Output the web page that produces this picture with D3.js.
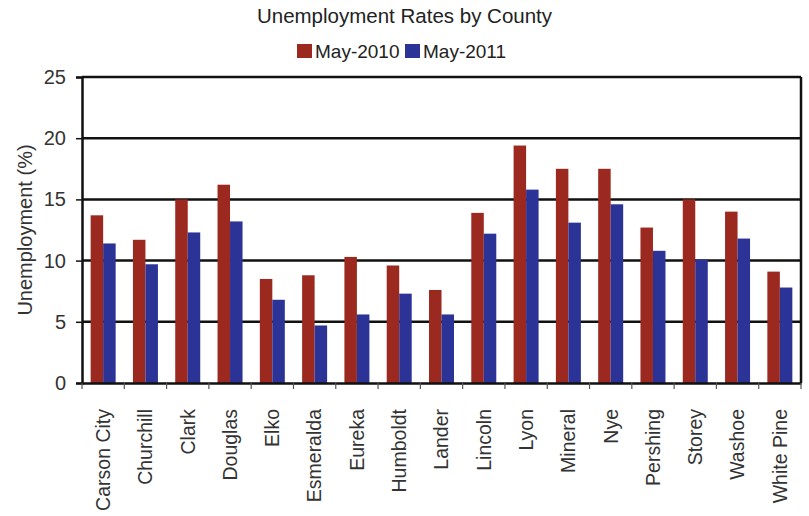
<!DOCTYPE html>
<html>
<head>
<meta charset="utf-8">
<script src="https://cdn.jsdelivr.net/npm/d3@7"></script>
<style>
  html, body { margin: 0; padding: 0; background: #fff; }
  svg { display: block; font-family: "Liberation Sans", Arial, Helvetica, sans-serif; }
</style>
</head>
<body>
<svg id="chart" width="809" height="516"></svg>
<script>
// County unemployment rates (%), May 2010 vs May 2011
const counties = ["Carson City", "Churchill", "Clark", "Douglas", "Elko", "Esmeralda",
  "Eureka", "Humboldt", "Lander", "Lincoln", "Lyon", "Mineral", "Nye", "Pershing",
  "Storey", "Washoe", "White Pine"];
const may2010 = [13.7, 11.7, 15.0, 16.2, 8.5, 8.8, 10.3, 9.6, 7.6, 13.9, 19.4, 17.5, 17.5, 12.7, 15.0, 14.0, 9.1];
const may2011 = [11.4, 9.7, 12.3, 13.2, 6.8, 4.7, 5.6, 7.3, 5.6, 12.2, 15.8, 13.1, 14.6, 10.8, 10.1, 11.8, 7.8];
const seriesNames = ["May-2010", "May-2011"];
const seriesColors = ["#9b2920", "#2c3396"];
const yTicks = [0, 5, 10, 15, 20, 25];

const svg = d3.select("#chart");
const plot = { left: 82, right: 801, top: 77, bottom: 383 };

const x = d3.scaleBand().domain(counties).range([plot.left, plot.right]).padding(0);
const y = d3.scaleLinear().domain([0, 25]).range([plot.bottom, plot.top]);
const pairWidth = 25;
const xSub = d3.scaleBand().domain(seriesNames).range([0, pairWidth]).padding(0);

const rows = counties.map((c, i) => ({ county: c, values: [may2010[i], may2011[i]] }));

// Horizontal gridlines
svg.append("g")
  .selectAll("line")
  .data(yTicks.filter(t => t > 0))
  .join("line")
  .attr("x1", plot.left).attr("x2", plot.right)
  .attr("y1", d => y(d)).attr("y2", d => y(d))
  .attr("stroke", "#111").attr("stroke-width", 2.5);

// Bars
const groups = svg.append("g")
  .selectAll("g")
  .data(rows)
  .join("g")
  .attr("transform", d => `translate(${x(d.county) + (x.bandwidth() - pairWidth) / 2},0)`);

groups.selectAll("rect")
  .data(d => d.values.map((v, k) => ({ key: seriesNames[k], value: v, k })))
  .join("rect")
  .attr("x", d => xSub(d.key))
  .attr("width", xSub.bandwidth())
  .attr("y", d => y(d.value))
  .attr("height", d => y(0) - y(d.value))
  .attr("fill", d => seriesColors[d.k]);

// Right border of the plot frame
svg.append("line")
  .attr("x1", plot.right).attr("x2", plot.right)
  .attr("y1", plot.top).attr("y2", plot.bottom)
  .attr("stroke", "#111").attr("stroke-width", 2.5);

// Y axis
const yAxis = svg.append("g")
  .attr("transform", `translate(${plot.left},0)`)
  .call(d3.axisLeft(y).tickValues(yTicks).tickSize(6).tickPadding(10));
yAxis.select(".domain").attr("stroke", "#111").attr("stroke-width", 2.5);
yAxis.selectAll(".tick line").attr("stroke", "#111").attr("stroke-width", 1.5);
yAxis.selectAll("text").attr("font-size", 20).attr("fill", "#333");

// X axis: baseline, boundary ticks and rotated county names
const xAxis = svg.append("g")
  .attr("transform", `translate(0,${plot.bottom})`)
  .call(d3.axisBottom(x).tickSize(0).tickPadding(0));
xAxis.select(".domain").attr("stroke", "#111").attr("stroke-width", 2.5);
xAxis.selectAll(".tick text")
  .attr("transform", "rotate(-90)")
  .attr("x", -26)
  .attr("y", 0)
  .attr("dy", "0.35em")
  .attr("text-anchor", "end")
  .attr("font-size", 19.5)
  .attr("fill", "#333");

const boundaries = counties.map(c => x(c)).concat([plot.right]);
xAxis.append("g")
  .selectAll("line")
  .data(boundaries)
  .join("line")
  .attr("x1", d => d).attr("x2", d => d)
  .attr("y1", 0).attr("y2", 6)
  .attr("stroke", "#555").attr("stroke-width", 1.2);

// Y axis title
svg.append("text")
  .attr("transform", `translate(32,${(plot.top + plot.bottom) / 2}) rotate(-90)`)
  .attr("text-anchor", "middle")
  .attr("font-size", 20)
  .attr("fill", "#333")
  .text("Unemployment (%)");

// Chart title
svg.append("text")
  .attr("x", 404.5).attr("y", 23)
  .attr("text-anchor", "middle")
  .attr("font-size", 20.5)
  .attr("fill", "#222")
  .text("Unemployment Rates by County");

// Legend
const legendItems = [
  { name: seriesNames[0], color: seriesColors[0], x: 297 },
  { name: seriesNames[1], color: seriesColors[1], x: 405 }
];
const legend = svg.append("g").selectAll("g").data(legendItems).join("g")
  .attr("transform", d => `translate(${d.x},44)`);
legend.append("rect").attr("width", 15).attr("height", 14).attr("fill", d => d.color);
legend.append("text")
  .attr("x", 18).attr("y", 14)
  .attr("font-size", 19)
  .attr("fill", "#222")
  .text(d => d.name);
</script>
</body>
</html>
